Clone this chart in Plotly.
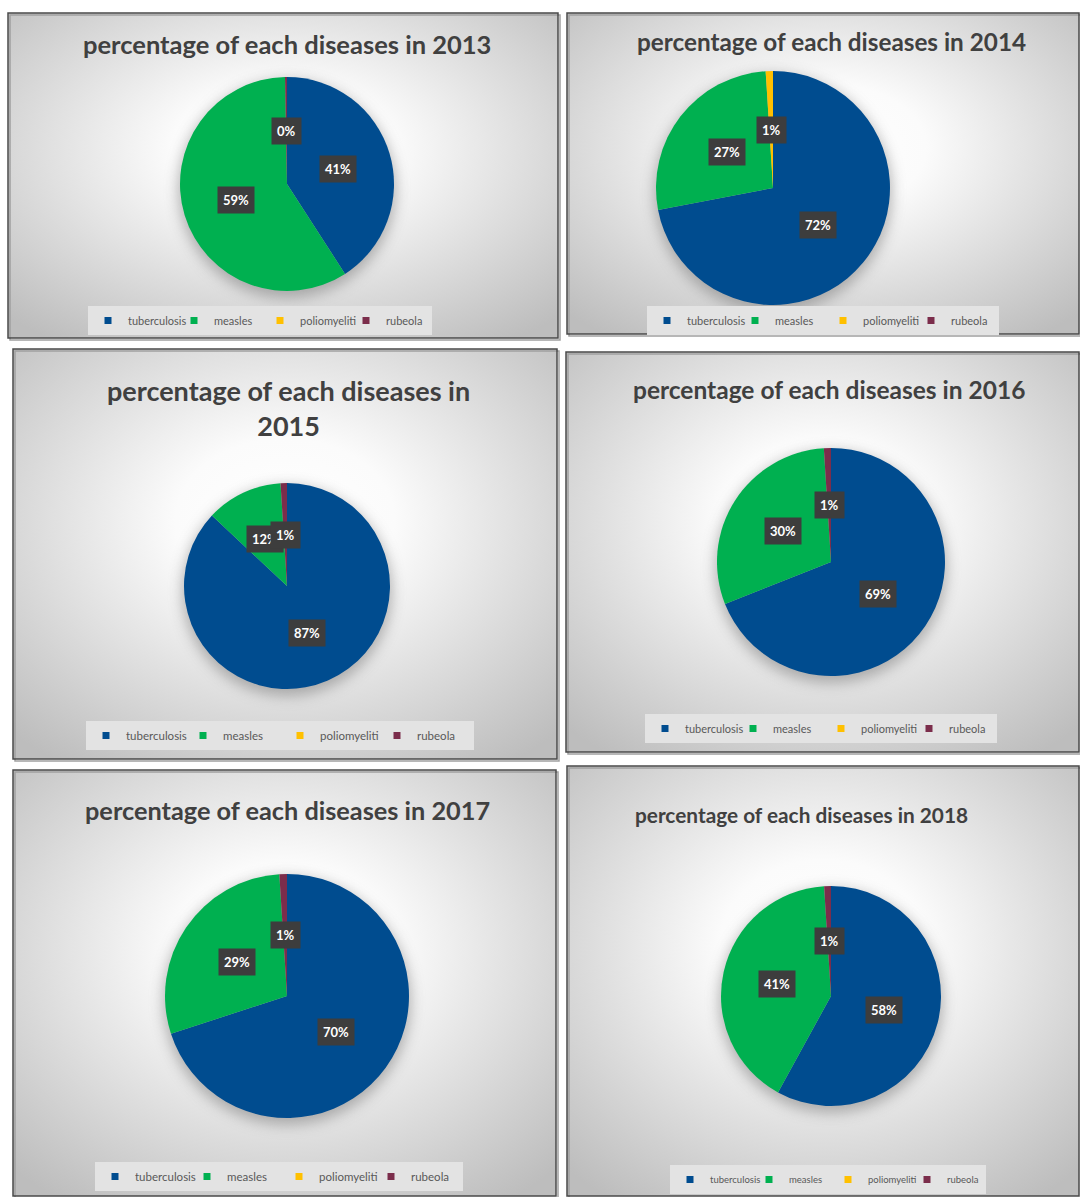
import base64
import math
import plotly.graph_objects as go

# ---------------- data ----------------
diseases = ["tuberculosis", "measles", "poliomyeliti", "rubeola"]
years = [2013, 2014, 2015, 2016, 2017, 2018]
tuberculosis = [41, 72, 87, 69, 70, 58]
measles = [59, 27, 12, 30, 29, 41]
poliomyeliti = [0, 1, 0, 0, 0, 0]
rubeola = [0.3, 0, 1, 1, 1, 1]
titles = [
    "percentage of each diseases in 2013",
    "percentage of each diseases in 2014",
    "percentage of each diseases in<br>2015",
    "percentage of each diseases in 2016",
    "percentage of each diseases in 2017",
    "percentage of each diseases in 2018",
]

# ---------------- styles / layout ----------------
colors = ["#004C8F", "#00B050", "#FFC000", "#7B2D4B"]
W, H = 1080, 1197

# panel rect (x0,y0,x1,y1), pie (cx,cy,r), title (x,y,size), legend (x,y,entrywidth,fontsize)
panels = [
    dict(rect=(8, 13, 558, 338), pie=(287, 184, 107), title=(287, 44, 25.5), leg=(88, 306, 41, 11)),
    dict(rect=(567, 13, 1079, 334), pie=(773, 188, 117), title=(831, 41, 24.3), leg=(647, 306, 43, 11)),
    dict(rect=(13, 349, 557, 759), pie=(287, 586, 103), title=(288, 408, 27), leg=(86, 721, 52, 11.5)),
    dict(rect=(566, 352, 1079, 752), pie=(831, 562, 114), title=(829, 389, 24.5), leg=(645, 714, 43, 11)),
    dict(rect=(13, 770, 556, 1196), pie=(287, 996, 122), title=(287, 810, 25.3), leg=(95, 1162, 47, 11.5)),
    dict(rect=(567, 766, 1079, 1196), pie=(831, 996, 110), title=(801, 814, 20.8), leg=(670, 1165, 34, 9.5)),
]


def px(x):
    return x / W


def py(y):
    return 1 - y / H


def bg_svg(w, h, pcx, pcy, pr):
    svg = (
        f"<svg xmlns='http://www.w3.org/2000/svg' width='{w}' height='{h}' viewBox='0 0 {w} {h}'>"
        "<defs><radialGradient id='g' cx='0.5' cy='0.42' r='0.72'>"
        "<stop offset='0' stop-color='#ffffff'/>"
        "<stop offset='0.28' stop-color='#fbfbfb'/>"
        "<stop offset='1' stop-color='#bdbdbd'/></radialGradient>"
        "<filter id='s' x='-50%' y='-50%' width='200%' height='200%'>"
        "<feGaussianBlur stdDeviation='7'/></filter></defs>"
        f"<rect width='{w}' height='{h}' fill='url(#g)'/>"
        f"<circle cx='{pcx}' cy='{pcy + 5}' r='{pr + 2}' fill='#6f6f6f' opacity='0.5' filter='url(#s)'/>"
        "</svg>"
    )
    return "data:image/svg+xml;base64," + base64.b64encode(svg.encode()).decode()


fig = go.Figure()
images, shapes, annotations = [], [], []
layout_legends = {}

for i, year in enumerate(years):
    p = panels[i]
    x0, y0, x1, y1 = p["rect"]
    cx, cy, r = p["pie"]
    values = [tuberculosis[i], measles[i], poliomyeliti[i], rubeola[i]]
    legname = "legend" if i == 0 else f"legend{i + 1}"

    fig.add_trace(go.Pie(
        labels=diseases,
        values=values,
        sort=False,
        direction="clockwise",
        rotation=0,
        textinfo="none",
        hoverinfo="label+percent",
        marker=dict(colors=colors, line=dict(width=0)),
        domain=dict(x=[px(cx - r), px(cx + r)], y=[py(cy + r), py(cy - r)]),
        showlegend=False,
        name=str(year),
    ))

    # legend entries for this panel's own legend
    for d, c in zip(diseases, colors):
        fig.add_trace(go.Scatter(
            x=[None], y=[None], mode="markers", name=d,
            marker=dict(symbol="square", size=7, color=c),
            legend=legname, showlegend=True, hoverinfo="skip",
        ))

    # background with gradient and pie shadow
    images.append(dict(
        source=bg_svg(x1 - x0, y1 - y0, cx - x0, cy - y0, r),
        xref="paper", yref="paper", x=px(x0), y=py(y0),
        sizex=(x1 - x0) / W, sizey=(y1 - y0) / H,
        xanchor="left", yanchor="top", sizing="stretch", layer="below",
    ))
    shapes.append(dict(type="rect", xref="paper", yref="paper",
                       x0=px(x0 + 2), x1=px(x1 + 2), y0=py(y0 + 2), y1=py(y1 + 2),
                       line=dict(color="#a0a0a0", width=1.5), layer="below"))
    shapes.append(dict(type="rect", xref="paper", yref="paper",
                       x0=px(x0), x1=px(x1), y0=py(y0), y1=py(y1),
                       line=dict(color="#4a4a4a", width=1.5)))

    # title
    tx, ty, ts = p["title"]
    annotations.append(dict(
        text=titles[i], x=px(tx), y=py(ty), xref="paper", yref="paper",
        xanchor="center", yanchor="middle", showarrow=False,
        font=dict(family="Lato", size=ts, color="#404040", weight="bold"),
    ))

    # data labels (dark boxes) at mid-angle, half radius
    total = sum(values)
    cum = 0.0
    for v in values:
        if v > 0:
            mid = (cum + v / 2) / total * 2 * math.pi
            lx = cx + 0.5 * r * math.sin(mid)
            ly = cy - 0.5 * r * math.cos(mid)
            annotations.append(dict(
                text=f"{round(v / total * 100)}%", x=px(lx), y=py(ly),
                xref="paper", yref="paper", xanchor="center", yanchor="middle",
                showarrow=False, bgcolor="#3d3d3d", borderpad=5,
                font=dict(family="Lato", size=13, color="#ffffff", weight="bold"),
            ))
        cum += v

    lx0, ly0, ew, lfs = p["leg"]
    layout_legends[legname] = dict(
        orientation="h", x=px(lx0), y=py(ly0), xanchor="left", yanchor="top",
        bgcolor="#e3e3e3", borderwidth=0, entrywidth=ew, entrywidthmode="pixels",
        itemwidth=30, traceorder="normal",
        font=dict(family="Lato", size=lfs, color="#595959"),
    )

fig.update_layout(
    width=W, height=H,
    margin=dict(l=0, r=0, t=0, b=0),
    paper_bgcolor="#ffffff",
    plot_bgcolor="rgba(0,0,0,0)",
    xaxis=dict(visible=False),
    yaxis=dict(visible=False),
    images=images, shapes=shapes, annotations=annotations,
    **layout_legends,
)

fig.write_html("out.html")
